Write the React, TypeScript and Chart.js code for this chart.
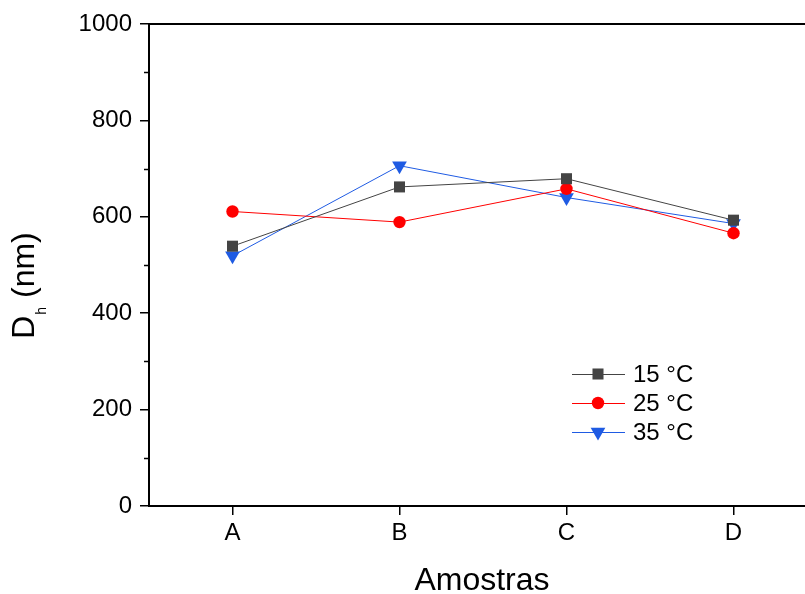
import React, { useEffect, useRef } from "react";
import { Chart, registerables } from "chart.js";

Chart.register(...registerables);

const categories = ["A", "B", "C", "D"];
const seriesLabels = ["15 °C", "25 °C", "35 °C"];
const values15 = [539, 662, 679, 593];
const values25 = [611, 589, 658, 566];
const values35 = [519, 706, 640, 586];
const yTicks = [0, 200, 400, 600, 800, 1000];
const yMinorTicks = [100, 300, 500, 700, 900];

const FONT = "'Liberation Sans', Arial, sans-serif";
const colors = ["#444444", "#ff0000", "#1f5be3"];
const styles = ["rect", "circle", "triangle"];
const radii = [7.8, 6.2, 8.5];
const rotations = [0, 0, 180];

export default function App() {
  const ref = useRef<HTMLCanvasElement | null>(null);
  useEffect(() => {
    if (!ref.current) return;
    const all = [values15, values25, values35];
    const datasets = all.map((vals, i) => ({
      label: seriesLabels[i],
      data: vals.map((v, j) => ({ x: j, y: v })),
      borderColor: colors[i],
      backgroundColor: colors[i],
      borderWidth: 1,
      pointStyle: styles[i] as any,
      pointRadius: radii[i],
      pointRotation: rotations[i],
      pointBorderWidth: 0,
      pointBackgroundColor: colors[i],
      tension: 0,
    }));

    const decor = {
      id: "decor",
      afterDraw(chart: any) {
        const ctx = chart.ctx;
        const ca = chart.chartArea;
        const ys = chart.scales.y;
        ctx.save();
        ctx.strokeStyle = "#000";
        // top border
        ctx.lineWidth = 2;
        ctx.beginPath();
        ctx.moveTo(ca.left, ca.top);
        ctx.lineTo(chart.width, ca.top);
        ctx.stroke();
        // minor ticks
        ctx.lineWidth = 1.5;
        yMinorTicks.forEach((v) => {
          const py = Math.round(ys.getPixelForValue(v)) + 0.5;
          ctx.beginPath();
          ctx.moveTo(ca.left - 5, py);
          ctx.lineTo(ca.left, py);
          ctx.stroke();
        });
        // legend
        ctx.font = "24px " + FONT;
        ctx.textBaseline = "middle";
        ctx.textAlign = "left";
        chart.data.datasets.forEach((ds: any, i: number) => {
          const y = 374 + i * 29;
          ctx.strokeStyle = colors[i];
          ctx.lineWidth = 1;
          ctx.beginPath();
          ctx.moveTo(572, y + 0.5);
          ctx.lineTo(625, y + 0.5);
          ctx.stroke();
          ctx.fillStyle = colors[i];
          const cx = 598;
          ctx.beginPath();
          if (styles[i] === "rect") {
            const s = radii[i] * Math.SQRT1_2;
            ctx.rect(cx - s, y - s, 2 * s, 2 * s);
          } else if (styles[i] === "circle") {
            ctx.arc(cx, y, radii[i], 0, Math.PI * 2);
          } else {
            const r = radii[i];
            ctx.moveTo(cx, y + r);
            ctx.lineTo(cx - r * Math.sin(Math.PI / 3), y - r / 2);
            ctx.lineTo(cx + r * Math.sin(Math.PI / 3), y - r / 2);
            ctx.closePath();
          }
          ctx.fill();
          ctx.fillStyle = "#000";
          ctx.fillText(ds.label, 633, y + 1);
        });
        // axis titles
        ctx.fillStyle = "#000";
        ctx.font = "32px " + FONT;
        ctx.textAlign = "center";
        ctx.textBaseline = "middle";
        ctx.fillText("Amostras", 482, 581);
        // y title with subscript
        ctx.save();
        ctx.translate(34, 286);
        ctx.rotate(-Math.PI / 2);
        ctx.textAlign = "left";
        ctx.textBaseline = "alphabetic";
        const partD = "D";
        const partH = "h";
        const partRest = " (nm)";
        ctx.font = "32px " + FONT;
        const wD = ctx.measureText(partD).width;
        ctx.font = "14px " + FONT;
        const wH = ctx.measureText(partH).width;
        ctx.font = "32px " + FONT;
        const wR = ctx.measureText(partRest).width;
        const total = wD + wH + wR;
        const x0 = -total / 2;
        ctx.fillText(partD, x0, 0);
        ctx.font = "14px " + FONT;
        ctx.fillText(partH, x0 + wD + 1, 12);
        ctx.font = "32px " + FONT;
        ctx.fillText(partRest, x0 + wD + wH + 1, 0);
        ctx.restore();
        ctx.restore();
      },
    };

    const chart = new Chart(ref.current, {
      type: "line",
      data: { datasets: datasets as any },
      options: {
        responsive: false,
        animation: false,
        layout: { autoPadding: false, padding: { top: 24, right: 0, left: 0, bottom: 0 } },
        plugins: { legend: { display: false }, tooltip: { enabled: false } },
        scales: {
          x: {
            type: "linear",
            min: -0.5,
            max: (805 - 149) / 167 - 0.5,
            afterBuildTicks: (s: any) => {
              s.ticks = categories.map((_, i) => ({ value: i }));
            },
            afterFit: (s: any) => {
              s.height = 88;
            },
            ticks: {
              callback: (v: any) => categories[v] ?? "",
              font: { family: FONT, size: 24 },
              color: "#000",
              padding: 4,
              maxRotation: 0,
              autoSkip: false,
            },
            grid: {
              drawOnChartArea: false,
              drawTicks: true,
              tickLength: 9,
              color: "#000",
              lineWidth: 1.5,
            },
            border: { color: "#000", width: 2 },
          },
          y: {
            min: 0,
            max: 1000,
            afterBuildTicks: (s: any) => {
              s.ticks = yTicks.map((v) => ({ value: v }));
            },
            afterFit: (s: any) => {
              s.width = 149;
            },
            ticks: {
              callback: (v: any) => String(v),
              font: { family: FONT, size: 24 },
              color: "#000",
              padding: 8,
            },
            grid: {
              drawOnChartArea: false,
              drawTicks: true,
              tickLength: 9,
              color: "#000",
              lineWidth: 1.5,
            },
            border: { color: "#000", width: 2 },
          },
        },
      },
      plugins: [decor],
    });
    return () => chart.destroy();
  }, []);

  return (
    <div style={{ position: "fixed", left: 0, top: 0, width: 805, height: 594, background: "#fff" }}>
      <canvas ref={ref} width={805} height={594} style={{ display: "block" }} />
    </div>
  );
}
